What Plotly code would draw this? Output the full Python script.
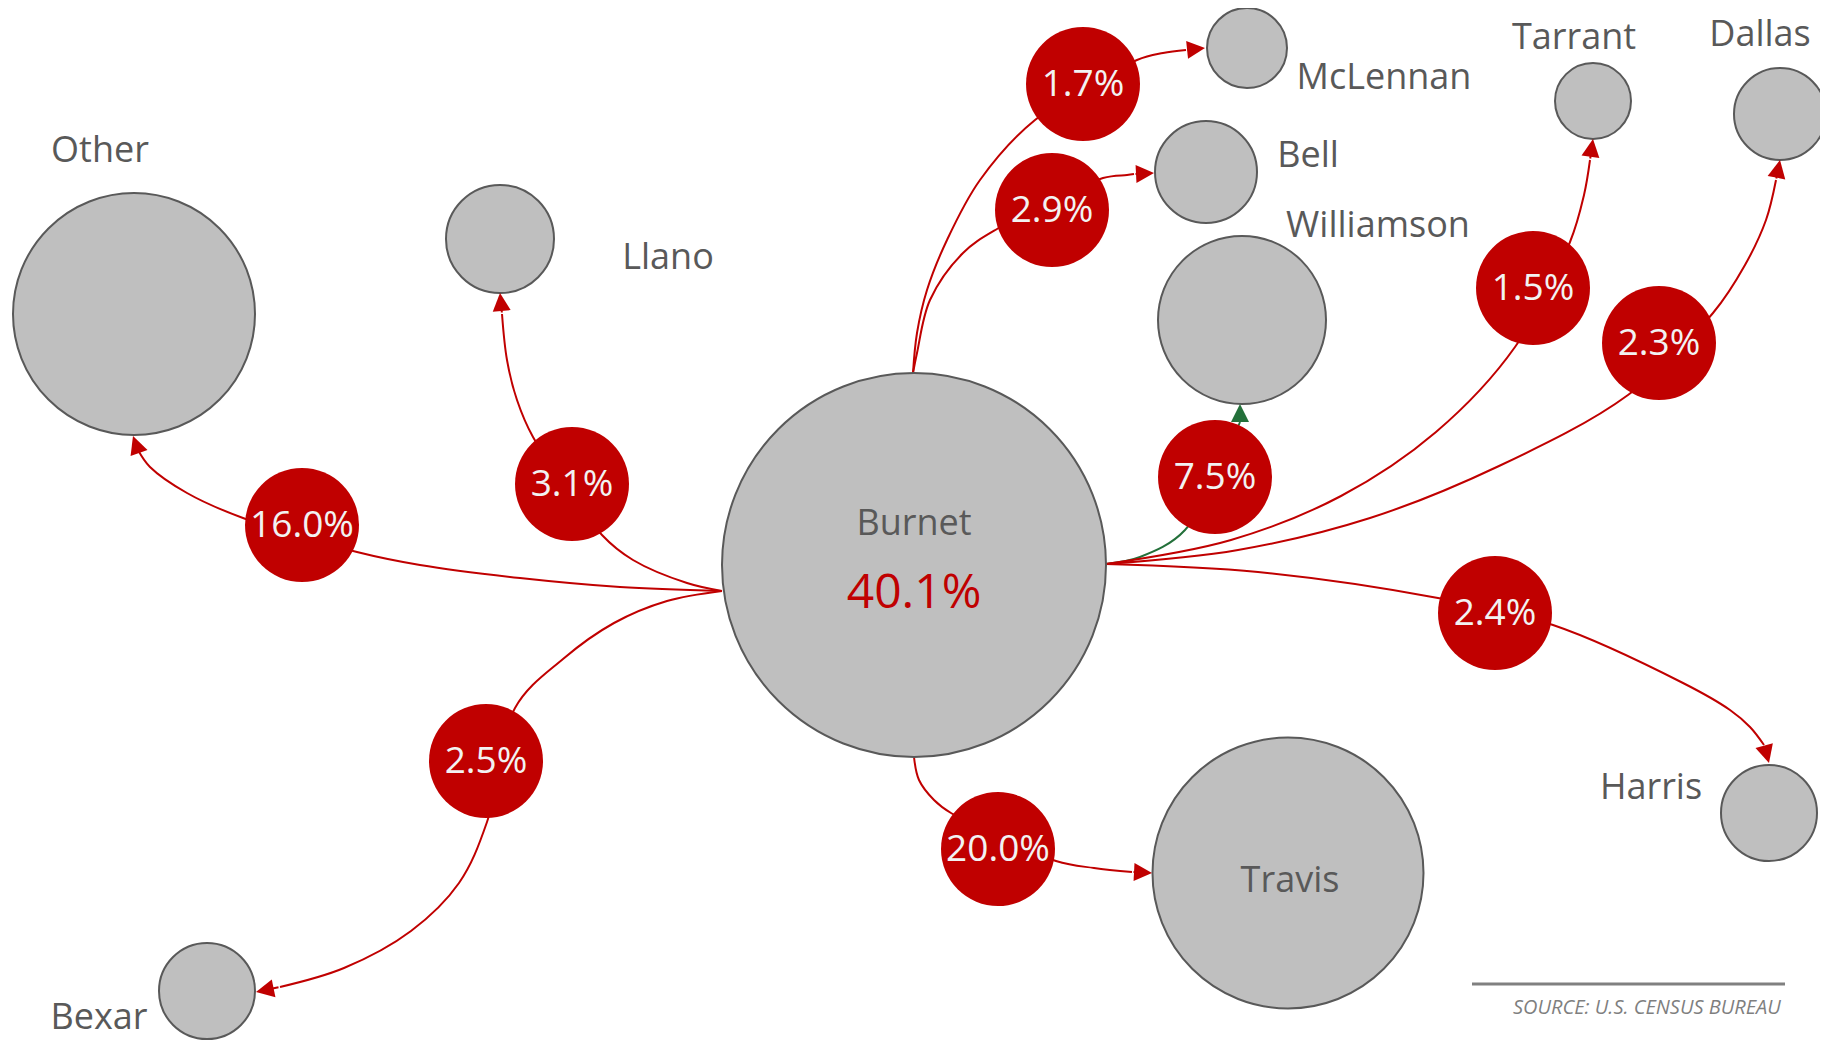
import plotly.graph_objects as go

# where Burnet County workers commute to (share of workers, %)
counties = ["Burnet", "Travis", "Other", "Williamson", "Llano", "Bell",
            "Bexar", "Harris", "Dallas", "McLennan", "Tarrant"]
shares = [40.1, 20.0, 16.0, 7.5, 3.1, 2.9, 2.5, 2.4, 2.3, 1.7, 1.5]
source_note = "SOURCE: U.S. CENSUS BUREAU"

RED = "#C00000"
GREEN = "#23703A"
GREY_FILL = "#BFBFBF"
GREY_LINE = "#595959"
TEXT_GREY = "#595959"
FONT = "Open Sans"

W, H = 1828, 1040
PAGE_MARGIN = 8  # default body margin of the html page

# diagram layout, in pixels (x to the right, y downwards)
node_pos = {
    "Burnet": (914, 565), "Travis": (1288, 873), "Other": (134, 314),
    "Williamson": (1242, 320), "Llano": (500, 239), "Bell": (1206, 172),
    "Bexar": (207, 991), "Harris": (1769, 813), "Dallas": (1780, 114),
    "McLennan": (1247, 48), "Tarrant": (1593, 101),
}
node_size = {
    "Burnet": 384, "Travis": 271, "Other": 242, "Williamson": 168,
    "Llano": 108, "Bell": 102, "Bexar": 96, "Harris": 96, "Dallas": 92,
    "McLennan": 80, "Tarrant": 76,
}
label_pos = {
    "Burnet": (914, 526), "Travis": (1290, 883), "Other": (100, 153),
    "Williamson": (1378, 228), "Llano": (668, 260), "Bell": (1308, 158),
    "Bexar": (99, 1020), "Harris": (1651, 790), "Dallas": (1760, 37),
    "McLennan": (1384, 80), "Tarrant": (1574, 40),
}
bubble_pos = {
    "Travis": (998, 849), "Other": (302, 525), "Williamson": (1215, 477),
    "Llano": (572, 484), "Bell": (1052, 210), "Bexar": (486, 761),
    "Harris": (1495, 613), "Dallas": (1659, 343), "McLennan": (1083, 84),
    "Tarrant": (1533, 288),
}
# waypoints of each flow line, from Burnet through the bubble to the county
routes = {
    "Other": [(722, 591), (620, 587), (520, 578), (420, 565), (357, 552),
              (243, 518), (187, 493), (150, 467), (138, 450)],
    "Llano": [(722, 591), (687, 583), (633, 560), (602, 535), (533, 437),
              (517, 400), (507, 360), (502, 314)],
    "Bexar": [(722, 591), (667, 601), (614, 623), (563, 659), (515, 708),
              (487, 822), (459, 883), (411, 931), (344, 968), (280, 987)],
    "McLennan": [(913, 373), (917, 333), (927, 290), (947, 240), (980, 180),
                 (1035, 120), (1137, 60), (1163, 53), (1186, 50)],
    "Bell": [(913, 373), (917, 353), (930, 300), (963, 253), (997, 229),
             (1103, 178), (1127, 175), (1134, 174)],
    "Travis": [(914, 757), (919, 780), (934, 800), (951, 813), (1056, 861),
               (1094, 868), (1132, 872)],
    "Williamson": [(1106, 564), (1140, 557), (1185, 530), (1240, 422)],
    "Tarrant": [(1106, 564), (1231, 540), (1341, 496), (1436, 432), (1515, 347),
                (1570, 242), (1584, 195), (1590, 160)],
    "Dallas": [(1106, 564), (1238, 550), (1370, 518), (1499, 466), (1628, 395),
               (1713, 313), (1745, 265), (1766, 220), (1776, 180)],
    "Harris": [(1106, 564), (1258, 572), (1438, 598), (1553, 625), (1683, 683),
               (1730, 710), (1750, 727), (1764, 745)],
}
arrow_tip = {
    "Other": (133, 436), "Llano": (500, 293), "Bexar": (256, 992),
    "McLennan": (1205, 48), "Bell": (1154, 173), "Travis": (1152, 873),
    "Williamson": (1240, 404), "Tarrant": (1593, 139), "Dallas": (1780, 160),
    "Harris": (1769, 763),
}
line_colour = {c: RED for c in counties}
line_colour["Williamson"] = GREEN
TEXT_DROP = 3  # bubble labels sit slightly below the bubble centre

share_of = dict(zip(counties, shares))
flows = [c for c in counties if c != "Burnet"]

fig = go.Figure()
annotations = []

# flow lines with arrowheads
for c in flows:
    pts = routes[c]
    fig.add_trace(go.Scatter(
        x=[p[0] for p in pts], y=[p[1] for p in pts], mode="lines",
        line=dict(color=line_colour[c], width=2, shape="spline", smoothing=1.0),
        hoverinfo="skip", showlegend=False))
    tip = arrow_tip[c]
    annotations.append(dict(
        x=tip[0], y=tip[1], ax=pts[-1][0], ay=pts[-1][1], xref="x", yref="y",
        axref="x", ayref="y", text="", showarrow=True, arrowhead=2,
        arrowsize=1.8, arrowwidth=2, arrowcolor=line_colour[c], standoff=0))

# county circles
fig.add_trace(go.Scatter(
    x=[node_pos[c][0] for c in counties], y=[node_pos[c][1] for c in counties],
    mode="markers",
    marker=dict(size=[node_size[c] for c in counties], color=GREY_FILL,
                line=dict(color=GREY_LINE, width=2), opacity=1),
    hoverinfo="text", text=counties, showlegend=False))

# county names
fig.add_trace(go.Scatter(
    x=[label_pos[c][0] for c in counties], y=[label_pos[c][1] for c in counties],
    mode="text", text=counties, textposition="middle center",
    textfont=dict(family=FONT, size=36, color=TEXT_GREY),
    hoverinfo="skip", showlegend=False))

# Burnet's own share
fig.add_trace(go.Scatter(
    x=[node_pos["Burnet"][0]], y=[596], mode="text",
    text=[f"{share_of['Burnet']:.1f}%"], textposition="middle center",
    textfont=dict(family=FONT, size=48, color=RED),
    hoverinfo="skip", showlegend=False))

# share bubbles on each flow
fig.add_trace(go.Scatter(
    x=[bubble_pos[c][0] for c in flows], y=[bubble_pos[c][1] for c in flows],
    mode="markers",
    marker=dict(size=114, color=RED, line=dict(width=0), opacity=1),
    hoverinfo="skip", showlegend=False))
fig.add_trace(go.Scatter(
    x=[bubble_pos[c][0] for c in flows],
    y=[bubble_pos[c][1] + TEXT_DROP for c in flows],
    mode="text", text=[f"{share_of[c]:.1f}%" for c in flows],
    textposition="middle center",
    textfont=dict(family=FONT, size=37, color="#F2F2F2"),
    hoverinfo="skip", showlegend=False))

# source note
fig.add_shape(type="line", x0=1472, x1=1785, y0=984, y1=984, xref="x", yref="y",
              line=dict(color="#808080", width=3))
annotations.append(dict(
    x=1783, y=1006, xref="x", yref="y", text=f"<i>{source_note}</i>",
    showarrow=False, xanchor="right", yanchor="middle",
    font=dict(family=FONT, size=20, color="#7F7F7F")))

# the page adds a small body margin, so shift the axes to keep pixel positions
fig.update_layout(
    width=W - PAGE_MARGIN, height=H - PAGE_MARGIN,
    margin=dict(l=0, r=0, t=0, b=0),
    paper_bgcolor="white", plot_bgcolor="white",
    xaxis=dict(range=[PAGE_MARGIN, W], visible=False, fixedrange=True),
    yaxis=dict(range=[H, PAGE_MARGIN], visible=False, fixedrange=True),
    annotations=annotations,
    showlegend=False,
)

fig.write_html("out.html")
